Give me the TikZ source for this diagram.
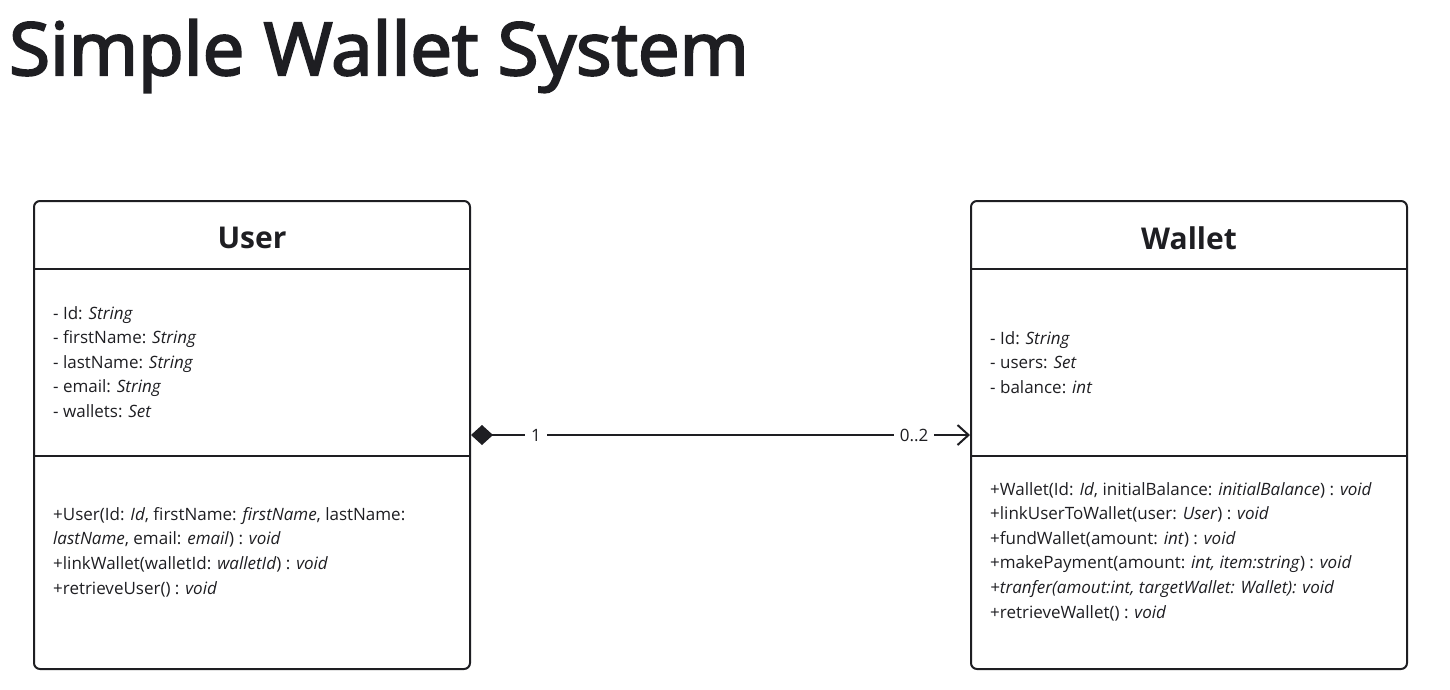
\documentclass[tikz,border=0pt]{standalone}
\usepackage{fontspec}
\setmainfont{Open Sans}
\newfontfamily\titlefont{Open Sans}[FakeBold=3, FakeStretch=1.02]
\usepackage{tikz}
\usetikzlibrary{arrows.meta}
\definecolor{ink}{HTML}{1E1E22}

\tikzset{
  classbox/.style={draw=ink, line width=2pt, rounded corners=6pt, minimum width=436pt, minimum height=468pt},
  classname/.style={text=ink, font=\fontsize{30}{32}\selectfont\bfseries},
  members/.style={text=ink, anchor=north west, align=left, inner sep=0pt, font=\fontsize{17}{24.6}\selectfont},
  mult/.style={text=ink, fill=white, inner xsep=6pt, inner ysep=2pt, font=\fontsize{17}{20}\selectfont}
}

\begin{document}
\begin{tikzpicture}[x=1pt, y=-1pt]
        % page frame
        \useasboundingbox (0,0) rectangle (1450,689);
    \node[text=ink, anchor=base west, inner sep=0pt, font=\fontsize{73}{80}\titlefont] (title) at (9,75) {Simple Wallet System};
    % the two classes
    \node[classbox] (user) at (252,435) {};
    \node[classbox] (wallet) at (1189,435) {};
    \foreach \c in {user,wallet} {
      \draw[draw=ink, line width=2pt] (\c.west |- 0,269) -- (\c.east |- 0,269);
      \draw[draw=ink, line width=2pt] (\c.west |- 0,456) -- (\c.east |- 0,456);
    }
    \node[classname] (username) at (252,238) {User};
    \node[classname] (walletname) at (1189,238) {Wallet};
    \node[members] (userattr) at (53,306) {- Id: \textit{String}\\
      - firstName: \textit{String}\\
      - lastName: \textit{String}\\
      - email: \textit{String}\\
      - wallets: \textit{Set}};
    \node[members] (userops) at (53,507) {+User(Id: \textit{Id}, firstName: \textit{firstName}, lastName:\\
      \textit{lastName}, email: \textit{email}) : \textit{void}\\
      +linkWallet(walletId: \textit{walletId}) : \textit{void}\\
      +retrieveUser() : \textit{void}};
    \node[members] (walletattr) at (990,331) {- Id: \textit{String}\\
      - users: \textit{Set}\\
      - balance: \textit{int}};
    \node[members] (walletops) at (990,482) {+Wallet(Id: \textit{Id}, initialBalance: \textit{initialBalance}) : \textit{void}\\
      +linkUserToWallet(user: \textit{User}) : \textit{void}\\
      +fundWallet(amount: \textit{int}) : \textit{void}\\
      +makePayment(amount: \textit{int, item:string}) : \textit{void}\\
      \textit{+tranfer(amout:int, targetWallet: Wallet): void}\\
      +retrieveWallet() : \textit{void}};
    % composition
    \draw[draw=ink, line width=2pt, {Diamond[length=22pt,width=20pt]}-{Straight Barb[length=11pt,width=20pt]}]
      (user) -- node[mult, pos=0.13] {1} node[mult, pos=0.888] {0..2} (wallet);
\end{tikzpicture}
\end{document}
